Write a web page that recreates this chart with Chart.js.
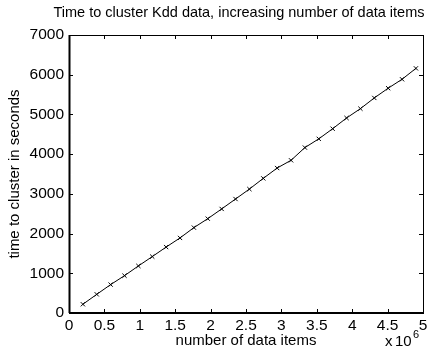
<!DOCTYPE html>
<html>
<head>
<meta charset="utf-8">
<script src="https://cdn.jsdelivr.net/npm/chart.js@4"></script>
<style>
  html, body { margin: 0; padding: 0; background: #fff; }
  #wrap { width: 438px; height: 350px; }
</style>
</head>
<body>
<div id="wrap"><canvas id="chart" width="438" height="350"></canvas></div>
<script>
// number of data items (x 10^6) and the clustering time in seconds
const itemCounts = [0.196, 0.392, 0.588, 0.784, 0.98, 1.176, 1.372, 1.568, 1.764, 1.96,
  2.156, 2.352, 2.548, 2.744, 2.94, 3.136, 3.332, 3.528, 3.724, 3.92,
  4.116, 4.312, 4.508, 4.704, 4.9];
const clusterSeconds = [220, 470, 715, 940, 1185, 1420, 1660, 1890, 2150, 2375,
  2620, 2870, 3120, 3390, 3650, 3845, 4165, 4385, 4640, 4910,
  5145, 5415, 5660, 5885, 6160];
const xTicks = [0, 0.5, 1, 1.5, 2, 2.5, 3, 3.5, 4, 4.5, 5];
const yTicks = [0, 1000, 2000, 3000, 4000, 5000, 6000, 7000];
const titleText = "Time to cluster Kdd data, increasing number of data items";

const FONT = "'Liberation Sans', Arial, Helvetica, sans-serif";

// matlab-style frame: full box with inward ticks on all four sides,
// title centred over the axes rather than the canvas
const boxPlugin = {
  id: "box",
  afterDraw(chart) {
    const { ctx, chartArea: a, scales } = chart;
    ctx.save();
    ctx.strokeStyle = "#000";
    ctx.lineWidth = 1;
    ctx.strokeRect(a.left + 0.5, a.top + 0.5, a.right - a.left, a.bottom - a.top);
    ctx.lineWidth = 2;
    ctx.beginPath();
    ctx.moveTo(a.left, a.bottom);
    ctx.lineTo(a.right, a.bottom);
    ctx.moveTo(a.left + 0.5, a.top);
    ctx.lineTo(a.left + 0.5, a.bottom);
    ctx.stroke();
    ctx.lineWidth = 1;
    ctx.beginPath();
    const t = 4;
    for (const v of xTicks) {
      const x = Math.round(scales.x.getPixelForValue(v)) + 0.5;
      ctx.moveTo(x, a.bottom); ctx.lineTo(x, a.bottom - t);
      ctx.moveTo(x, a.top); ctx.lineTo(x, a.top + t);
    }
    for (const v of yTicks) {
      const y = Math.round(scales.y.getPixelForValue(v)) + 0.5;
      ctx.moveTo(a.left, y); ctx.lineTo(a.left + t, y);
      ctx.moveTo(a.right, y); ctx.lineTo(a.right - t, y);
    }
    ctx.stroke();

    ctx.fillStyle = "#000";
    ctx.textBaseline = "middle";
    ctx.textAlign = "center";
    ctx.font = "14.5px " + FONT;
    ctx.fillText(titleText, (a.left + a.right) / 2 - 7, 13);

    // exponent marker under the x axis
    ctx.textBaseline = "alphabetic";
    ctx.textAlign = "left";
    ctx.font = "15px " + FONT;
    ctx.fillText("x", 385, 346);
    ctx.fillText("10", 395, 346);
    ctx.font = "11px " + FONT;
    ctx.fillText("6", 413, 338);
    ctx.restore();
  }
};

new Chart(document.getElementById("chart"), {
  type: "line",
  data: {
    datasets: [{
      data: itemCounts.map((x, i) => ({ x, y: clusterSeconds[i] })),
      borderColor: "#000",
      backgroundColor: "#000",
      borderWidth: 1,
      pointStyle: "crossRot",
      pointRadius: 3,
      pointBorderWidth: 1,
      tension: 0
    }]
  },
  options: {
    responsive: false,
    animation: false,
    layout: { padding: { left: 0, right: 15, top: 35, bottom: 0 } },
    plugins: {
      legend: { display: false },
      tooltip: { enabled: false },
      title: { display: false }
    },
    scales: {
      x: {
        type: "linear",
        min: 0, max: 5,
        afterBuildTicks(s) { s.ticks = xTicks.map(v => ({ value: v })); },
        afterFit(s) { s.height = 37; },
        grid: { display: false, drawTicks: false, tickLength: 0 },
        border: { display: false },
        ticks: {
          color: "#000", padding: 3, maxRotation: 0,
          font: { family: FONT, size: 15.5 },
          callback: v => String(v)
        },
        title: {
          display: true, text: "number of data items", color: "#000",
          font: { family: FONT, size: 15 }, padding: { top: 0, bottom: 0 }
        }
      },
      y: {
        min: 0, max: 7000,
        afterBuildTicks(s) { s.ticks = yTicks.map(v => ({ value: v })); },
        afterFit(s) { s.width = 69; },
        grid: { display: false, drawTicks: false, tickLength: 0 },
        border: { display: false },
        ticks: {
          color: "#000", padding: 5,
          font: { family: FONT, size: 15.5 },
          callback: v => String(v)
        },
        title: {
          display: true, text: "time to cluster in seconds", color: "#000",
          font: { family: FONT, size: 15 }, padding: { top: 6, bottom: 0 }
        }
      }
    }
  },
  plugins: [boxPlugin]
});
</script>
</body>
</html>
